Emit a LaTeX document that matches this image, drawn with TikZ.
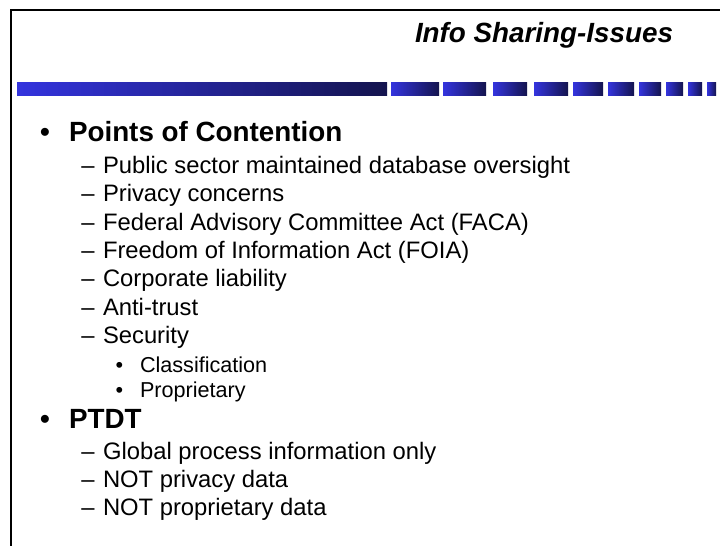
\documentclass[tikz,border=0pt]{standalone}
\usepackage{fontspec}
\setmainfont{Liberation Sans}
\definecolor{barlight}{RGB}{52,52,222}
\definecolor{bardark}{RGB}{20,20,78}
\begin{document}
\begin{tikzpicture}[x=1pt,y=-1pt,inner sep=0pt,outer sep=0pt,
  titletext/.style={anchor=base west,font=\fontsize{27.8}{33}\selectfont\bfseries\itshape},
  lvlone/.style={anchor=base west,font=\fontsize{27.8}{33}\selectfont\bfseries},
  lvltwo/.style={anchor=base west,font=\fontsize{23.8}{28}\selectfont},
  lvlthree/.style={anchor=base west,font=\fontsize{21.6}{26}\selectfont},
  bulone/.style={anchor=base,font=\fontsize{27.8}{33}\selectfont\bfseries},
  dashtwo/.style={anchor=base,font=\fontsize{23.8}{28}\selectfont},
  bulthree/.style={anchor=base,font=\fontsize{21.6}{26}\selectfont},
  barseg/.style={left color=barlight,right color=bardark,shading angle=90}]
\useasboundingbox[fill=white] (0,0) rectangle (720,546);

% frame lines
\draw[line width=2pt] (11,546) -- (11,10) -- (720,10);

% title
\node[titletext] (title) at (415,42) {Info Sharing-Issues};

% segmented gradient bar under the title
\foreach \a/\b in {17/387,391/439,443/486,493/527,534/568,573/603,608/634,639/661,666/683,688/702,707/716}{
  \shade[left color=barlight,right color=bardark] (\a,82) rectangle (\b,95);
}

% first group
\node[bulone] (b1) at (45,141) {•};
\node[lvlone] (h1) at (69,141) {Points of Contention};

\node[dashtwo] (d1) at (88,173.3) {–};
\node[lvltwo] (t1) at (103,173.3) {Public sector maintained database oversight};
\node[dashtwo] (d2) at (88,201.7) {–};
\node[lvltwo] (t2) at (103,201.7) {Privacy concerns};
\node[dashtwo] (d3) at (88,230.1) {–};
\node[lvltwo] (t3) at (103,230.1) {Federal Advisory Committee Act (FACA)};
\node[dashtwo] (d4) at (88,258.5) {–};
\node[lvltwo] (t4) at (103,258.5) {Freedom of Information Act (FOIA)};
\node[dashtwo] (d5) at (88,286.9) {–};
\node[lvltwo] (t5) at (103,286.9) {Corporate liability};
\node[dashtwo] (d6) at (88,315.3) {–};
\node[lvltwo] (t6) at (103,315.3) {Anti-trust};
\node[dashtwo] (d7) at (88,343.7) {–};
\node[lvltwo] (t7) at (103,343.7) {Security};

\node[bulthree] (s1) at (119.3,372) {•};
\node[lvlthree] (u1) at (140,372) {Classification};
\node[bulthree] (s2) at (119.3,397) {•};
\node[lvlthree] (u2) at (140,397) {Proprietary};

% second group
\node[bulone] (b2) at (45,428) {•};
\node[lvlone] (h2) at (69,428) {PTDT};

\node[dashtwo] (e1) at (88,459) {–};
\node[lvltwo] (p1) at (103,459) {Global process information only};
\node[dashtwo] (e2) at (88,487) {–};
\node[lvltwo] (p2) at (103,487) {NOT privacy data};
\node[dashtwo] (e3) at (88,515) {–};
\node[lvltwo] (p3) at (103,515) {NOT proprietary data};
\end{tikzpicture}
\end{document}
